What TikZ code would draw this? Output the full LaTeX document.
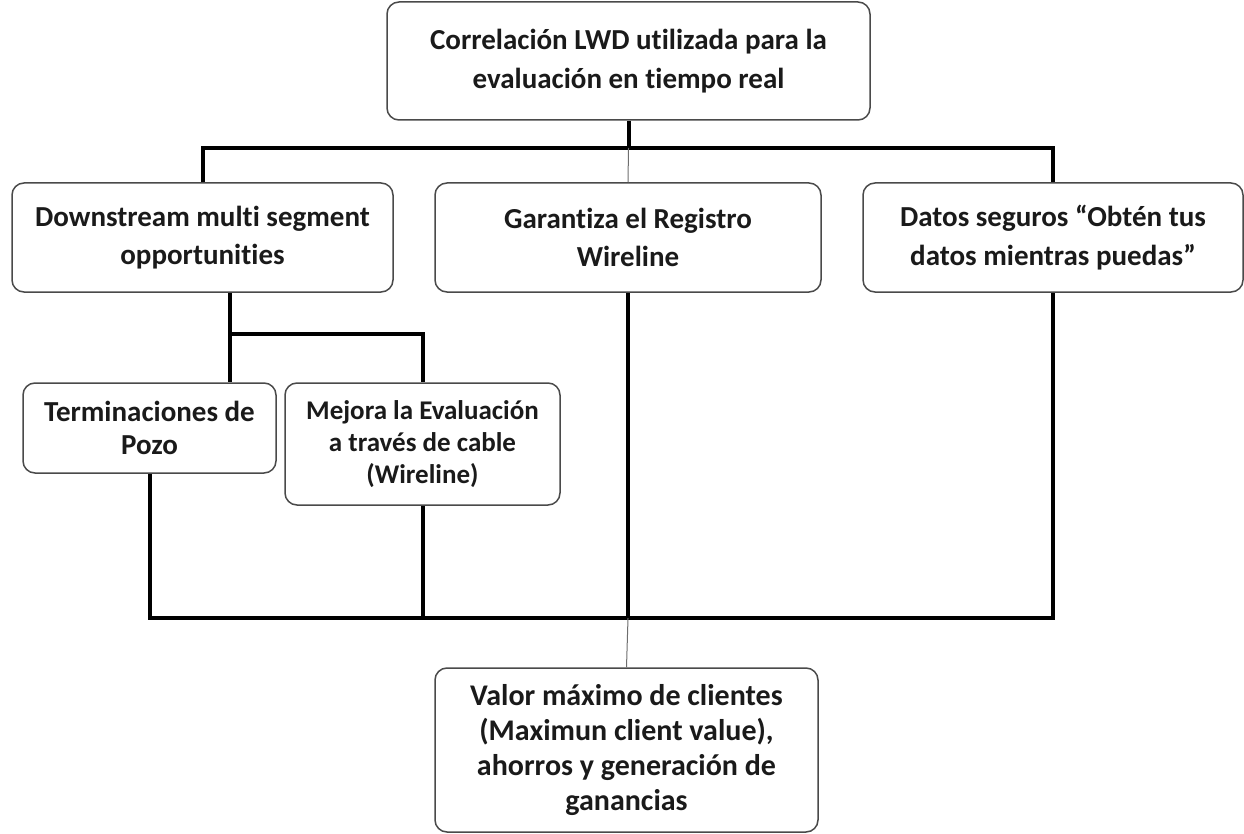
\documentclass[tikz,border=0pt]{standalone}
\usepackage{fontspec}
\setmainfont{Carlito}[Ligatures=NoCommon]
\usepackage{xcolor}
\usetikzlibrary{calc,positioning}
\definecolor{Frame}{HTML}{4A4A4A}
\definecolor{Ink}{HTML}{1A1A1A}
\definecolor{Thread}{HTML}{6E6E6E}

\begin{document}
\begin{tikzpicture}[x=1pt,y=-1pt,
  card/.style={draw=Frame,fill=white,rounded corners=12pt,line width=1.5pt,inner sep=2pt,align=center,text=Ink,font=\bfseries\fontsize{29}{38.5}\selectfont},
  smallcard/.style={card,font=\bfseries\fontsize{27}{32}\selectfont},
  bus/.style={draw=black,line width=4pt},
  thread/.style={draw=Thread,line width=1pt}
]
\useasboundingbox (0,0) rectangle (1244,834);
\node[card,minimum width=483pt,minimum height=118pt] (corr) at (628.5,61) {Correlación LWD utilizada para la\\evaluación en tiempo real};
\node[card,minimum width=381pt,minimum height=109pt] (down) at (202.5,237.5) {Downstream multi segment\\opportunities};
\node[card,minimum width=386pt,minimum height=109pt] (gar) at (628,237.5) {Garantiza el Registro\\Wireline};
\node[card,minimum width=380pt,minimum height=109pt] (datos) at (1053,237.5) {Datos seguros “Obtén tus\\datos mientras puedas”};
\node[smallcard,font=\bfseries\fontsize{29}{33}\selectfont,minimum width=253pt,minimum height=90pt] (term) at (149.5,428) {Terminaciones de\\Pozo};
\node[smallcard,minimum width=275pt,minimum height=122pt] (mejora) at (422.5,444) {Mejora la Evaluación\\a través de cable\\(Wireline)};
\node[smallcard,font=\bfseries\fontsize{30}{35}\selectfont,minimum width=383pt,minimum height=164pt] (valor) at (626.5,750) {Valor máximo de clientes\\(Maximun client value),\\ahorros y generación de\\ganancias};
\coordinate (topbus) at (628.5,148);
\coordinate (split) at (230,334);
\coordinate (botbus) at (628,618);
% top level
\draw[bus] (corr.south) -- (topbus);
\draw[bus] (down.north) |- (topbus) -| (datos.north);
\draw[thread] (topbus) -- (gar.north);
% downstream branch
\draw[bus] (down.south -| split) -- (split) -| (mejora.north);
\draw[bus] (split) -- (term.north -| split);
% bottom level
\draw[bus] (term.south) |- (botbus) -| (datos.south);
\draw[bus] (mejora.south) -- (mejora.south |- botbus);
\draw[bus] (gar.south) -- (botbus);
\draw[thread] (botbus) -- (valor.north);
\end{tikzpicture}
\end{document}
